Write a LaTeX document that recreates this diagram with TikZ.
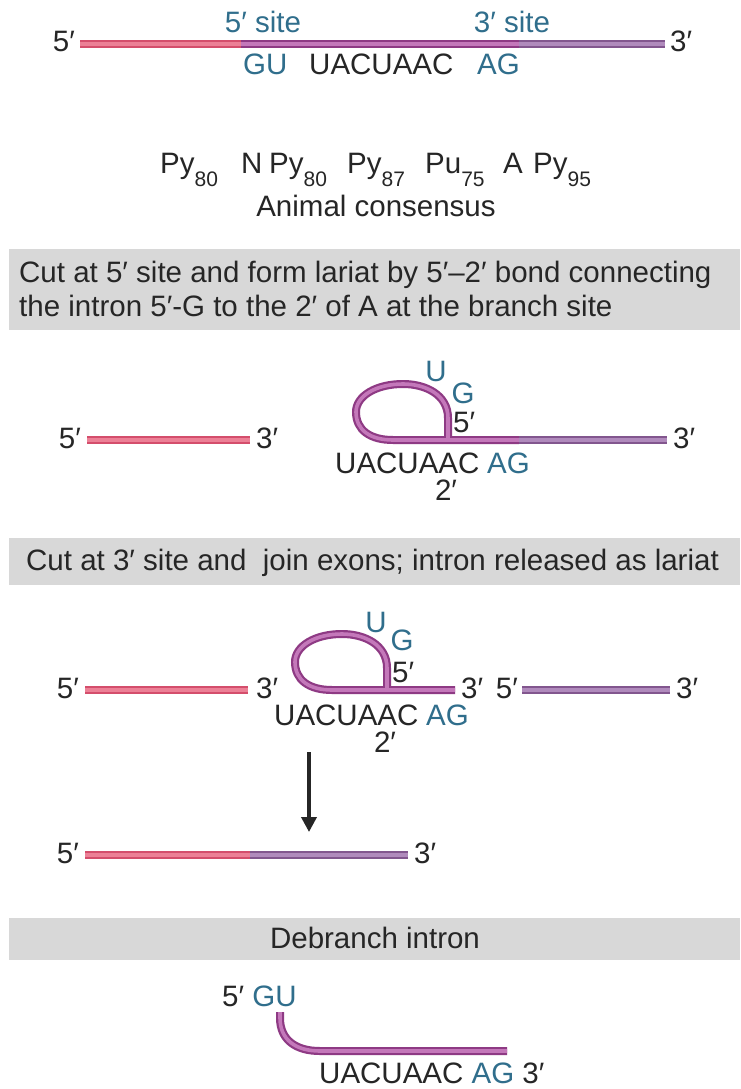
\documentclass[tikz,border=0pt]{standalone}
\usepackage{fontspec}
\setmainfont{Liberation Sans}
\usetikzlibrary{arrows.meta}
\definecolor{txt}{RGB}{38,38,38}
\definecolor{bl}{RGB}{48,110,140}
\definecolor{boxg}{RGB}{216,216,216}
\definecolor{exAo}{RGB}{212,78,108}
\definecolor{exAi}{RGB}{236,128,150}
\definecolor{inO}{RGB}{142,58,132}
\definecolor{inI}{RGB}{196,120,186}
\definecolor{exBo}{RGB}{130,86,142}
\definecolor{exBi}{RGB}{176,138,188}
\newcommand{\subn}[1]{\raisebox{-13pt}{\fontsize{21}{21}\selectfont #1}}
\newcommand{\blu}[1]{\textcolor{bl}{#1}}
\begin{document}
\begin{tikzpicture}[x=1pt,y=-1pt,
  lab/.style={inner sep=0pt, font=\fontsize{29.5}{33}\selectfont, text=txt},
  blab/.style={lab, text=bl},
  strand/.style 2 args={draw=#1, double=#2, double distance=3.6pt, line width=2.2pt},
  exonA/.style={strand={exAo}{exAi}},
  intron/.style={strand={inO}{inI}},
  exonB/.style={strand={exBo}{exBi}},
  graybox/.style={fill=boxg, draw=none}]
\useasboundingbox[fill=white] (0,0) rectangle (740,1089);

% ---------- top: pre-mRNA ----------
\draw[exonA] (80,44) -- (241,44);
\draw[intron] (241,44) -- (519,44);
\draw[exonB] (519,44) -- (665,44);
\node[lab, anchor=base east] (t5) at (75,52) {5′};
\node[lab, anchor=base west] (t3) at (670,52) {3′};
\node[blab, anchor=base] (s5) at (263,33) {5′ site};
\node[blab, anchor=base] (s3) at (512,33) {3′ site};
\node[blab, anchor=base west] (gu) at (243,75) {GU};
\node[lab, anchor=base west] (ua) at (309,75) {UACUAAC};
\node[blab, anchor=base west] (ag) at (477,75) {AG};

% consensus
\node[lab, anchor=base west] (p1) at (160,173) {Py\subn{80}};
\node[lab, anchor=base west] (p2) at (241,173) {N};
\node[lab, anchor=base west] (p3) at (269,173) {Py\subn{80}};
\node[lab, anchor=base west] (p4) at (347,173) {Py\subn{87}};
\node[lab, anchor=base west] (p5) at (425,173) {Pu\subn{75}};
\node[lab, anchor=base west] (p6) at (503,173) {A};
\node[lab, anchor=base west] (p7) at (533,173) {Py\subn{95}};
\node[lab, anchor=base] (ac) at (376,216) {Animal consensus};

% ---------- step 1 ----------
\fill[graybox] (9,249) rectangle (740,330);
\node[lab, anchor=base west] (b1a) at (19,282) {Cut at 5′ site and form lariat by 5′--2′ bond connecting};
\node[lab, anchor=base west] (b1b) at (19,316) {the intron 5′-G to the 2′ of A at the branch site};

\draw[exonA] (87,440) -- (250,440);
\node[lab, anchor=base east] (l1a) at (81,448) {5′};
\node[lab, anchor=base west] (l1b) at (256,448) {3′};
\draw[intron] (448,440) -- (448,418) .. controls (448,395) and (426,384) .. (403,384)
  .. controls (376,384) and (356,396) .. (356,412) .. controls (356,430) and (370,440) .. (393,440) -- (519,440);
\draw[exonB] (519,440) -- (667,440);
\node[lab, anchor=base west] (l1c) at (673,448) {3′};
\node[blab, anchor=base] (u1) at (436,381) {U};
\node[blab, anchor=base] (g1) at (463,403) {G};
\node[lab, anchor=base west] (f1) at (453,432) {5′};
\node[lab, anchor=base west] (q1) at (335,473) {UACUAAC};
\node[blab, anchor=base west] (r1) at (487,473) {AG};
\node[lab, anchor=base] (w1) at (446,500) {2′};

% ---------- step 2 ----------
\fill[graybox] (9,538) rectangle (740,585);
\node[lab, anchor=base west] (b2) at (26,570) {Cut at 3′ site and\ \ join exons; intron released as lariat};

\draw[exonA] (85,690) -- (248,690);
\node[lab, anchor=base east] (l2a) at (79,698) {5′};
\node[lab, anchor=base west] (l2b) at (256,698) {3′};
\draw[intron] (387,690) -- (387,668) .. controls (387,645) and (365,634) .. (342,634)
  .. controls (315,634) and (295,646) .. (295,662) .. controls (295,680) and (309,690) .. (332,690) -- (455,690);
\node[lab, anchor=base west] (l2c) at (461,698) {3′};
\node[lab, anchor=base east] (l2d) at (518,698) {5′};
\draw[exonB] (522,690) -- (670,690);
\node[lab, anchor=base west] (l2e) at (676,698) {3′};
\node[blab, anchor=base] (u2) at (376,632) {U};
\node[blab, anchor=base] (g2) at (402,650) {G};
\node[lab, anchor=base west] (f2) at (392,682) {5′};
\node[lab, anchor=base west] (q2) at (274,725) {UACUAAC};
\node[blab, anchor=base west] (r2) at (426,725) {AG};
\node[lab, anchor=base] (w2) at (385,752) {2′};

% arrow
\coordinate (a1) at (309,752);
\coordinate (a2) at (309,832);
\draw[line width=3.6pt, draw=black!85, -{Triangle[length=15pt,width=15pt]}] (a1) -- (a2);

% spliced mRNA
\draw[exonA] (85,855) -- (250,855);
\draw[exonB] (250,855) -- (408,855);
\node[lab, anchor=base east] (m5) at (79,863) {5′};
\node[lab, anchor=base west] (m3) at (414,863) {3′};

% ---------- step 3 ----------
\fill[graybox] (9,918) rectangle (740,960);
\node[lab, anchor=base] (b3) at (375,948) {Debranch intron};

\node[lab, anchor=base west] (d5) at (222,1006) {5′ \blu{GU}};
\draw[intron] (280,1012) -- (280,1018) .. controls (280,1040) and (296,1051) .. (320,1051) -- (507,1051);
\node[lab, anchor=base west] (d3) at (319,1083) {UACUAAC \blu{AG} 3′};
\end{tikzpicture}
\end{document}
